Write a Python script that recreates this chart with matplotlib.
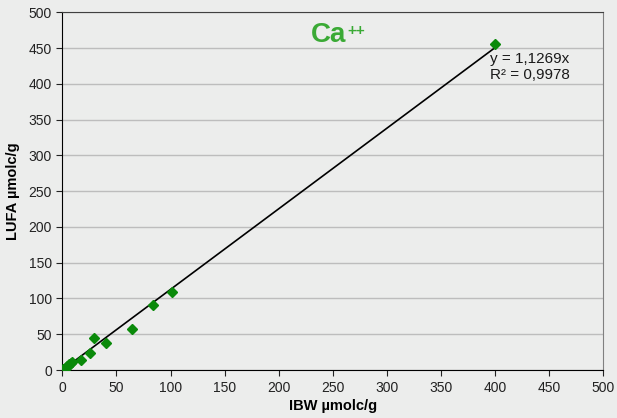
import numpy as np
import matplotlib.pyplot as plt

plt.rcParams['font.family'] = ['Liberation Sans', 'DejaVu Sans']

# IBW vs LUFA values (µmolc/g)
ibw = [0.5, 1, 2, 3, 4, 5, 6, 8, 9, 17, 26, 29, 40, 64, 84, 101, 400]
lufa = [0.5, 1, 2, 3, 5, 6, 8, 10, 11, 14, 24, 45, 38, 58, 91, 109, 455]

slope = 1.1269
r2 = 0.9978

bg = '#ecedec'
fig = plt.figure(figsize=(6.17, 4.18), dpi=100, facecolor=bg)
ax = fig.add_axes([0.101, 0.1148, 0.877, 0.8558], facecolor=bg)

ax.set_xlim(0, 500)
ax.set_ylim(0, 500)
ax.set_xticks(np.arange(0, 501, 50))
ax.set_yticks(np.arange(0, 501, 50))
ax.yaxis.grid(True, color='#bdbdbd', linewidth=1)
ax.set_axisbelow(True)

# trendline through origin
xl = np.array([0, 400])
ax.plot(xl, slope * xl, color='black', linewidth=1.2, zorder=2)
ax.plot(ibw, lufa, linestyle='none', marker='D', color='#0a8a0a',
        markersize=5, zorder=3)

for side in ['left', 'bottom']:
    ax.spines[side].set_color('black')
ax.spines['top'].set_color('#404040')
ax.spines['right'].set_color('#808080')

ax.tick_params(labelsize=10, colors='#222222', length=4, width=0.8)
ax.tick_params(axis='x', pad=4)

ax.set_xlabel('IBW µmolc/g', fontsize=10.5, fontweight='bold', labelpad=3)
ax.set_ylabel('LUFA µmolc/g', fontsize=10.5, fontweight='bold', labelpad=6)

# title "Ca++" with small superscript
t = ax.text(230, 468, 'Ca', color='#3aaa35', fontsize=20, fontweight='bold',
            ha='left', va='center')
ax.annotate('++', xy=(1, 1), xycoords=t, xytext=(0.5, -1),
            textcoords='offset points', ha='left', va='top',
            color='#3aaa35', fontsize=11, fontweight='bold')

ax.text(395, 424, 'y = 1,1269x\nR² = 0,9978', fontsize=11,
        color='#1a1a1a', ha='left', va='center', linespacing=1.2)

plt.savefig('out.png', dpi=100, facecolor=bg)
